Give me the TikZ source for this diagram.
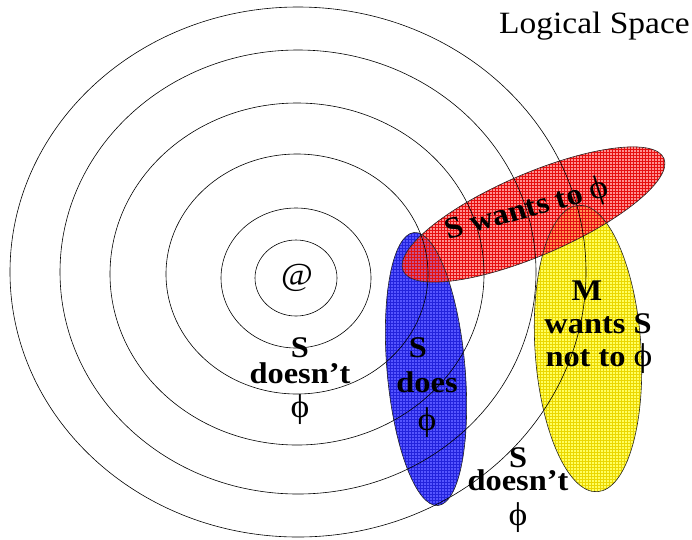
\documentclass[tikz,border=0pt]{standalone}
\usepackage{fontspec}
\setmainfont{Liberation Serif}
\usetikzlibrary{patterns}
\definecolor{bluefill}{RGB}{85,85,255}
\definecolor{bluegrid}{RGB}{35,35,220}
\definecolor{yellowfill}{RGB}{255,255,95}
\definecolor{yellowgrid}{RGB}{235,215,0}
\definecolor{redfill}{RGB}{255,85,85}
\definecolor{redgrid}{RGB}{230,15,15}
\begin{document}
\begin{tikzpicture}[x=1pt,y=-1pt,
  ring/.style={draw=black,line width=0.6pt},
  outl/.style={draw=black!85,line width=0.6pt},
  lbl/.style={font=\fontsize{30}{30}\selectfont\bfseries,inner sep=0pt,xscale=1.08,anchor=base},
  phi/.style={font=\fontsize{33}{33}\selectfont,inner sep=0pt,xscale=1.08,anchor=base}]
\useasboundingbox (0,0) rectangle (692,539);
% coloured regions
\path[rotate around={5:(426,369)},fill=bluefill,postaction={pattern=grid,pattern color=bluegrid}]
  (426,369) ellipse [x radius=39pt,y radius=137pt];
\path[rotate around={3.75:(588,348.5)},fill=yellowfill,postaction={pattern=grid,pattern color=yellowgrid}]
  (588,348.5) ellipse [x radius=53pt,y radius=143.5pt];
\begin{scope}[fill opacity=0.65]
\path[rotate around={23.3:(533.5,214.5)},fill=redfill,postaction={pattern=grid,pattern color=redgrid}]
  (533.5,214.5) ellipse [x radius=142pt,y radius=41pt];
\end{scope}
% rings
\draw[ring] (296,278) ellipse [x radius=41pt,y radius=38pt];
\draw[ring] (296,278) ellipse [x radius=75pt,y radius=70pt];
\draw[ring] (297,274) ellipse [x radius=131pt,y radius=120pt];
\draw[ring] (297,274) ellipse [x radius=187pt,y radius=171pt];
\draw[ring] (298,272) ellipse [x radius=238pt,y radius=222pt];
\draw[ring] (298,272) ellipse [x radius=288pt,y radius=265pt];
% outlines
\draw[outl,rotate around={5:(426,369)}] (426,369) ellipse [x radius=39pt,y radius=137pt];
\draw[outl,rotate around={3.75:(588,348.5)}] (588,348.5) ellipse [x radius=53pt,y radius=143.5pt];
\draw[outl,rotate around={23.3:(533.5,214.5)}] (533.5,214.5) ellipse [x radius=142pt,y radius=41pt];
% texts
\node[font=\fontsize{31}{31}\selectfont,inner sep=0pt,xscale=1.08,anchor=base east] (title) at (690,33) {Logical Space};
\node[font=\fontsize{32}{32}\selectfont,inner sep=0pt,xscale=1.08] (at) at (297,278) {@};
\node[lbl] (a1) at (300,357) {S};
\node[lbl] (a2) at (300,383) {doesn’t};
\node[phi] (a3) at (300,417) {ϕ};
\node[lbl] (b1) at (418,357) {S};
\node[lbl] (b2) at (427,392) {does};
\node[phi] (b3) at (427,430) {ϕ};
\node[lbl] (c1) at (587,300) {M};
\node[lbl] (c2) at (598,333) {wants S};
\node[lbl] (c3) at (599,366) {not to {\mdseries\fontsize{33}{33}\selectfont ϕ}};
\node[lbl] (d1) at (518,467) {S};
\node[lbl] (d2) at (518,490) {doesn’t};
\node[phi] (d3) at (518,525) {ϕ};
\node[lbl,anchor=center,rotate=16.5] (r1) at (527,210) {S wants to {\mdseries\fontsize{33}{33}\selectfont ϕ}};
\end{tikzpicture}
\end{document}
